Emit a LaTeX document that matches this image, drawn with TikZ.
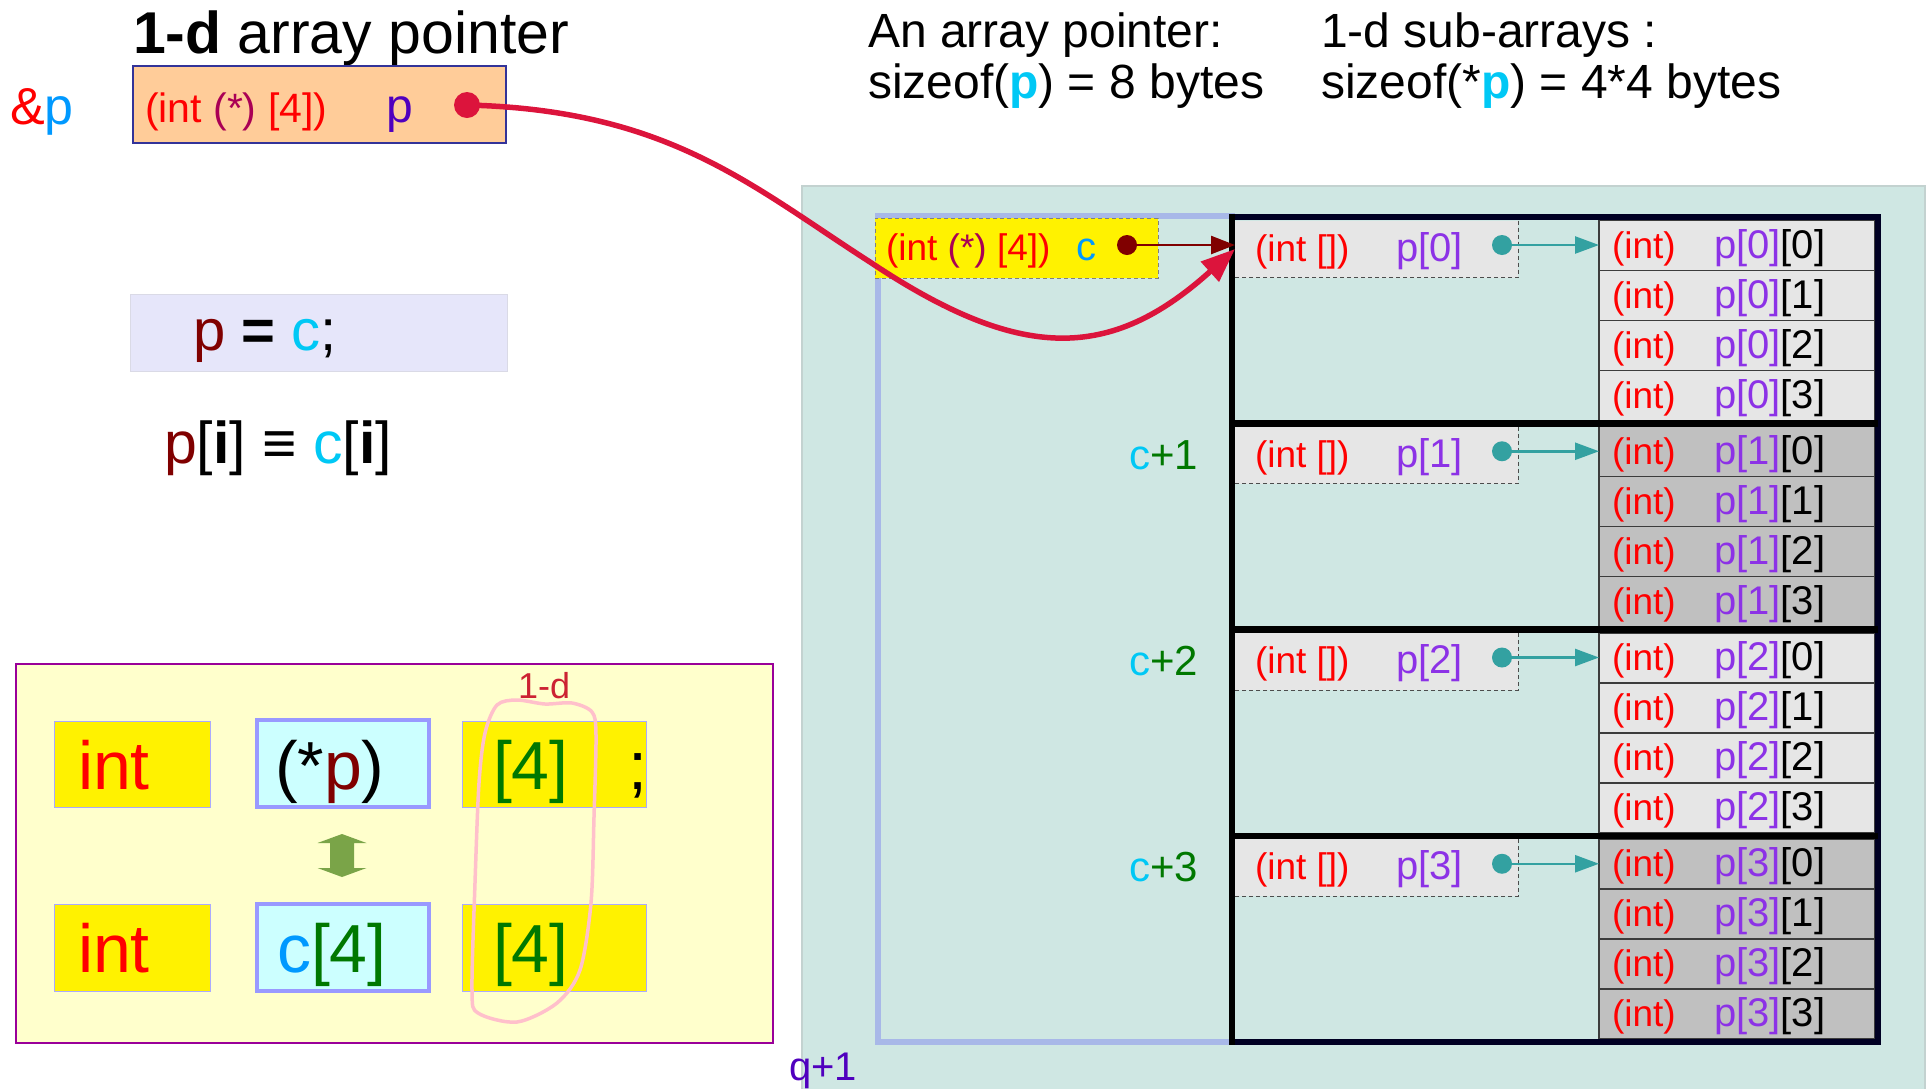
\documentclass[tikz,border=0pt]{standalone}
\usepackage{fontspec}
\setmainfont{Liberation Sans}
\usetikzlibrary{arrows.meta}
\definecolor{tealbg}{RGB}{207,231,227}
\definecolor{tealbd}{RGB}{195,210,208}
\definecolor{lavframe}{RGB}{168,184,232}
\definecolor{peach}{RGB}{255,204,153}
\definecolor{peachbd}{RGB}{51,51,153}
\definecolor{lavbox}{RGB}{230,230,250}
\definecolor{lavboxbd}{RGB}{218,218,230}
\definecolor{cream}{RGB}{255,255,204}
\definecolor{creambd}{RGB}{153,0,153}
\definecolor{lcyan}{RGB}{204,255,255}
\definecolor{periw}{RGB}{153,153,255}
\definecolor{periwthin}{RGB}{170,170,255}
\definecolor{cellA}{RGB}{230,230,230}
\definecolor{cellB}{RGB}{192,192,192}
\definecolor{cellbd}{RGB}{60,60,60}
\definecolor{framec}{RGB}{0,0,35}
\definecolor{crim}{RGB}{220,20,60}
\definecolor{maroonc}{RGB}{128,0,0}
\definecolor{tealc}{RGB}{51,161,161}
\definecolor{starc}{RGB}{170,0,85}
\definecolor{pblue}{RGB}{80,0,190}
\definecolor{skyc}{RGB}{0,153,255}
\definecolor{cyanc}{RGB}{0,200,245}
\definecolor{greenc}{RGB}{0,120,0}
\definecolor{purp}{RGB}{140,50,230}
\definecolor{greenarrow}{RGB}{122,164,72}
\definecolor{pinkc}{RGB}{255,192,203}
\definecolor{oneD}{RGB}{204,34,51}
\newcommand\fsz[1]{\fontsize{#1}{#1}\selectfont}
\tikzset{
  txt/.style={inner sep=0pt, outer sep=0pt, anchor=base west},
  rtxt/.style={inner sep=0pt, outer sep=0pt, anchor=base east},
  box/.style={inner sep=0pt, outer sep=0pt, anchor=north west, rectangle},
  sz/.style 2 args={minimum width=#1pt, minimum height=#2pt},
  ball/.style={circle, inner sep=0pt, outer sep=0pt, minimum size=#1pt},
  yelbox/.style={box, fill=yellow, draw=periwthin, line width=1pt},
  cyanbox/.style={box, fill=lcyan, draw=periw, line width=3.5pt},
  cellbox/.style={box, draw=cellbd, line width=1.5pt, sz={276}{50}},
  graybox/.style={box, fill=cellA, sz={283}{57}},
}
\begin{document}
\begin{tikzpicture}[x=1pt,y=-1pt]
\useasboundingbox (0,0) rectangle (1930,1088);

% ---------- top left ----------
\node[txt] (title) at (133,53) {\fsz{59}\textbf{1-d} array pointer};
\node[txt] (amp) at (10,124) {\fsz{52}\textcolor{red}{\&}\textcolor{skyc}{p}};
\node[box, sz={373}{77}, fill=peach, draw=peachbd, line width=1.2pt] (pbox) at (133,66) {};
\node[txt] (ptype) at (145,122) {\fsz{41}\textcolor{red}{(int} \textcolor{starc}{(*)} \textcolor{red}{\relax[4])}};
\node[txt, pblue] (pname) at (386,122) {\fsz{48}p};
\node[ball=26, fill=crim] (pdot) at (467,105) {};

\node[box, sz={377}{77}, fill=lavbox, draw=lavboxbd, line width=1pt] (assign) at (130,294) {};
\node[txt] (assigntxt) at (193,350) {\fsz{58}\textcolor{maroonc}{p} \textbf{=} \textcolor{cyanc}{c};};
\node[txt] (equiv) at (164,463) {\fsz{59}\textcolor{maroonc}{p}[\textbf{i}] \textbf{≡} \textcolor{cyanc}{c}[\textbf{i}]};

% ---------- top right texts ----------
\node[txt] (ap1) at (868,47) {\fsz{48}An array pointer:};
\node[txt] (ap2) at (868,98) {\fsz{48}sizeof(\textcolor{cyanc}{\textbf{p}}) = 8 bytes};
\node[txt] (sa1) at (1321,47) {\fsz{48}1-d sub-arrays :};
\node[txt] (sa2) at (1321,98) {\fsz{48}sizeof(*\textcolor{cyanc}{\textbf{p}}) = 4*4 bytes};

% ---------- bottom left panel ----------
\node[box, sz={757}{379}, fill=cream, draw=creambd, line width=1.2pt] (panel) at (16,664) {};
\node[yelbox, sz={156}{86}] (int1) at (54,721) {};
\node[cyanbox, sz={172}{87}] (star1) at (257,720) {};
\node[yelbox, sz={184}{86}] (four1) at (462,721) {};
\node[yelbox, sz={156}{87}] (int2) at (54,904) {};
\node[cyanbox, sz={172}{87}] (carr) at (257,904) {};
\node[yelbox, sz={184}{87}] (four2) at (462,904) {};
\node[txt, red] (tint1) at (78,789) {\fsz{68}int};
\node[txt] (tstar) at (275,789) {\fsz{68}(*\textcolor{maroonc}{p})};
\node[txt, greenc] (tfour1) at (493,789) {\fsz{68}[4]};
\node[txt] (tsemi) at (628,789) {\fsz{68};};
\node[txt, red] (tint2) at (78,972) {\fsz{68}int};
\node[txt] (tcarr) at (277,972) {\fsz{68}\textcolor{skyc}{c}\textcolor{greenc}{\relax[4]}};
\node[txt, greenc] (tfour2) at (493,972) {\fsz{68}[4]};
\fill[greenarrow] (342,834) -- (366.5,843) -- (354,843) -- (354,868) -- (366.5,868) -- (342,877)
  -- (317.5,868) -- (330,868) -- (330,843) -- (317.5,843) -- cycle;
\draw[pinkc, line width=3.5pt] plot[smooth cycle, tension=0.5] coordinates {
  (497,705) (517,700) (545,704) (572,703) (592,712) (596,735) (594,817) (591,903)
  (580,970) (557,1003) (517,1022) (478,1013) (472,990) (475,883) (479,783) (485,733)};
\node[txt, oneD] (oned) at (518,698) {\fsz{36}1-d};

% ---------- right panel ----------
\node[box, sz={1123}{910}, fill=tealbg, draw=tealbd, line width=1.2pt] (bg) at (802,186) {};
\draw[lavframe, line width=6pt] (878,216) rectangle (1232,1042);

\foreach \k/\cf in {0/cellA,1/cellB,2/cellA,3/cellB}{
  \pgfmathsetmacro\yk{217+206.25*\k}
  \node[graybox] (g\k) at (1235,{\yk+3.5}) {};
  \draw[dash pattern=on 4pt off 3pt, black!70, line width=1pt] (g\k.north east) -- (g\k.south east) -- (g\k.south west);
  \node[txt, red] (gt\k) at (1255,{\yk+44}) {\fsz{37}(int [])};
  \node[txt, purp] (gp\k) at (1396,{\yk+44}) {\fsz{40}p[\k]};
  \foreach \j in {0,1,2,3}{
    \node[cellbox, fill=\cf] (c\k\j) at (1599,{\yk+3.25+50*\j}) {};
    \node[txt, red] (ci\k\j) at (1612,{\yk+41+50*\j}) {\fsz{37}(int)};
    \node[txt] (cp\k\j) at (1714,{\yk+41+50*\j}) {\fsz{40}\textcolor{purp}{p[\k]}[\j]};
  }
  \node[ball=20, fill=tealc] (d\k) at (1502,{\yk+28}) {};
  \draw[tealc, line width=2.5pt, -{Triangle[length=24pt,width=17pt]}] (d\k.center) -- (d\k.center -| c\k0.west);
  \ifnum\k>0
    \node[rtxt] (lab\k) at (1198,{\yk+46}) {\fsz{42}\textcolor{cyanc}{c}\textcolor{greenc}{+\k}};
  \fi
}

\draw[framec, line width=6.5pt] (1232,217) rectangle (1878,1042);
\foreach \k in {1,2,3}{
  \draw[black, line width=6.5pt] (1232,{217+206.25*\k}) -- (1878,{217+206.25*\k});
}
\draw[black, line width=6.5pt] (1232,214) -- (1232,1045);

\node[box, sz={283}{60}, fill=yellow, draw=gray, dash pattern=on 4pt off 3pt, line width=1pt] (cbox) at (875,218) {};
\node[txt] (ctype) at (886,260) {\fsz{37}\textcolor{red}{(int} \textcolor{starc}{(*)} \textcolor{red}{\relax[4])}};
\node[txt, skyc] (cname) at (1076,260) {\fsz{40}c};
\node[ball=20, fill=maroonc] (cdot) at (1127,245) {};
\draw[maroonc, line width=2.5pt, -{Triangle[length=24pt,width=18pt]}] (cdot.center) -- (cdot.center -| g0.west);

\node[txt, pblue] (q1) at (789,1080) {\fsz{40}q+1};

% ---------- main curve ----------
\draw[crim, line width=5.5pt, -{Triangle[length=34pt,width=26pt]}] (pdot.center)
  .. controls (668,110) and (750,185) .. (870,262)
  .. controls (1020,362) and (1110,362) .. (g0.west);
\end{tikzpicture}
\end{document}
